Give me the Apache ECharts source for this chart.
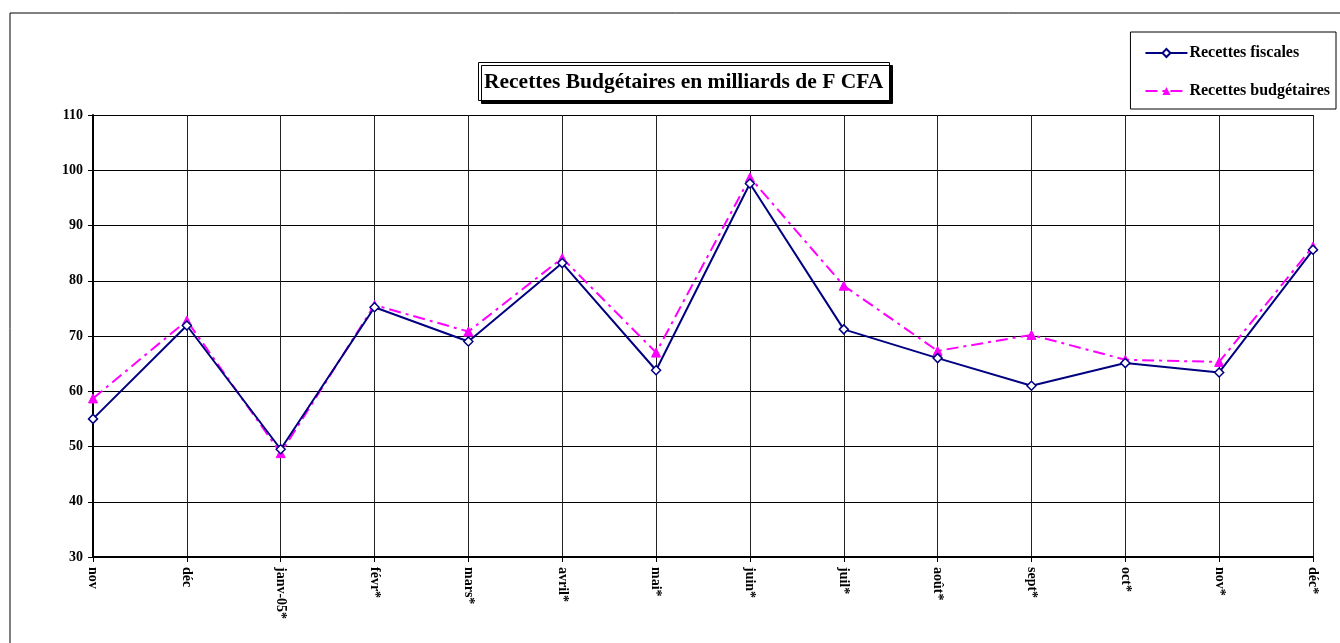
<!DOCTYPE html>
<html>
<head>
<meta charset="utf-8">
<script src="https://cdn.jsdelivr.net/npm/echarts@6/dist/echarts.min.js"></script>
<style>
html,body{margin:0;padding:0;background:#fff;}
#chart{width:1340px;height:643px;}
</style>
</head>
<body>
<div id="chart"></div>
<script>
const categories = ['nov','déc','janv-05*','févr*','mars*','avril*','mai*','juin*','juil*','août*','sept*','oct*','nov*','déc*'];
const recettesFiscales = [55.0, 71.9, 49.5, 75.2, 69.0, 83.2, 63.8, 97.6, 71.2, 66.0, 61.0, 65.1, 63.4, 85.6];
const recettesBudgetaires = [58.7, 72.8, 48.8, 75.6, 70.8, 84.1, 67.0, 98.7, 79.1, 67.3, 70.2, 65.7, 65.3, 86.2];
const yMin = 30, yMax = 110, yStep = 10;

const chart = echarts.init(document.getElementById('chart'));
const serif = '"Liberation Serif", "DejaVu Serif", serif';
chart.setOption({
  animation: false,
  backgroundColor: '#fff',
  graphic: [{
    type: 'rect', z: -10,
    shape: {x: 10, y: 13, width: 1340, height: 640},
    style: {fill: 'none', stroke: '#000', lineWidth: 1}
  }],
  title: {
    text: 'Recettes Budgétaires en milliards de F CFA',
    left: 478, top: 62,
    padding: [9, 6, 8, 6],
    backgroundColor: '#fff',
    borderColor: '#000',
    borderWidth: 1,
    shadowColor: '#000',
    shadowBlur: 0,
    shadowOffsetX: 3,
    shadowOffsetY: 3,
    textStyle: {fontFamily: serif, fontWeight: 'bold', fontSize: 21.5, color: '#000'}
  },
  legend: {
    orient: 'vertical',
    right: 4, top: 32,
    padding: [13, 6, 10, 14],
    itemGap: 22,
    itemWidth: 42, itemHeight: 10,
    backgroundColor: '#fff',
    borderColor: '#000', borderWidth: 1,
    textStyle: {fontFamily: serif, fontWeight: 'bold', fontSize: 16, color: '#000', padding: [0, 0, 0, -3]},
    data: ['Recettes fiscales', 'Recettes budgétaires']
  },
  grid: {left: 93, right: 27, top: 115, bottom: 86, containLabel: false},
  xAxis: {
    type: 'category',
    data: categories,
    boundaryGap: false,
    axisLine: {show: true, lineStyle: {color: '#000', width: 2}},
    axisTick: {show: true, alignWithLabel: true, length: 5, lineStyle: {color: '#000'}},
    axisLabel: {rotate: -90, interval: 0, margin: 10, fontFamily: serif, fontWeight: 'bold', fontSize: 14, color: '#000'},
    splitLine: {show: true, interval: 0, lineStyle: {color: '#222', width: 1}}
  },
  yAxis: {
    type: 'value',
    min: yMin, max: yMax, interval: yStep,
    axisLine: {show: true, lineStyle: {color: '#000', width: 2}},
    axisTick: {show: true, length: 5, lineStyle: {color: '#000'}},
    axisLabel: {margin: 10, fontFamily: serif, fontWeight: 'bold', fontSize: 14, color: '#000'},
    splitLine: {show: true, lineStyle: {color: '#000', width: 1}}
  },
  series: [{
    name: 'Recettes fiscales',
    type: 'line',
    data: recettesFiscales,
    symbol: 'diamond', symbolSize: 9, showAllSymbol: true,
    lineStyle: {color: '#000080', width: 2},
    itemStyle: {color: '#fff', borderColor: '#000080', borderWidth: 1.5},
    z: 3
  }, {
    name: 'Recettes budgétaires',
    type: 'line',
    data: recettesBudgetaires,
    symbol: 'triangle', symbolSize: 9, showAllSymbol: true,
    lineStyle: {color: '#FF00FF', width: 2, type: [12, 5, 3, 5]},
    itemStyle: {color: '#FF00FF', borderColor: '#FF00FF'},
    z: 2
  }]
});
</script>
</body>
</html>
